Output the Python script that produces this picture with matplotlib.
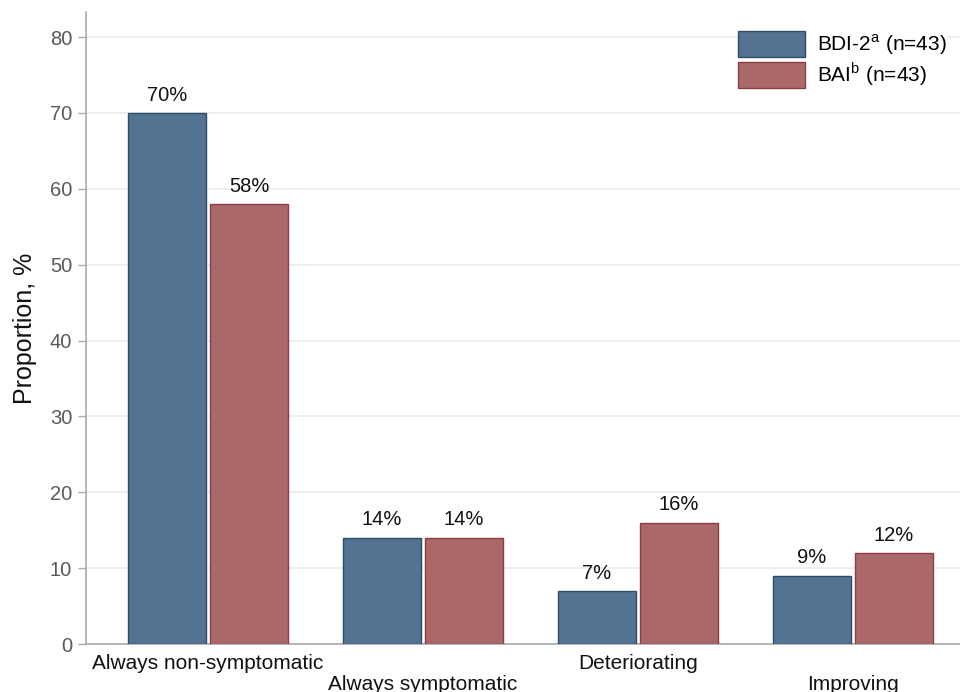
import matplotlib
matplotlib.use("Agg")
import matplotlib.pyplot as plt
import numpy as np

categories = ["Always non-symptomatic", "Always symptomatic", "Deteriorating", "Improving"]
bdi = [70, 14, 7, 9]
bai = [58, 14, 16, 12]
bdi_labels = ["70%", "14%", "7%", "9%"]
bai_labels = ["58%", "14%", "16%", "12%"]
series_names = ["BDI-2$^{\\mathrm{a}}$ (n=43)", "BAI$^{\\mathrm{b}}$ (n=43)"]
yticks = [0, 10, 20, 30, 40, 50, 60, 70, 80]

plt.rcParams['font.family'] = ['Liberation Sans', 'DejaVu Sans']
plt.rcParams['mathtext.fontset'] = 'custom'
plt.rcParams['mathtext.rm'] = 'Liberation Sans'

fig = plt.figure(figsize=(9.6, 6.92), dpi=100)
ax = fig.add_axes([86/960, 1-644/692, 1-86/960, (644-12)/692])

x = np.arange(len(categories))
w = 0.363
off = 0.191
blue = "#527391"
red = "#aa6868"
b1 = ax.bar(x - off, bdi, w, color=blue, edgecolor="#2e4c6b", linewidth=1.0, label=series_names[0], zorder=3)
b2 = ax.bar(x + off, bai, w, color=red, edgecolor="#8e3c46", linewidth=1.0, label=series_names[1], zorder=3)

for rects, labs in ((b1, bdi_labels), (b2, bai_labels)):
    for r, lab in zip(rects, labs):
        ax.annotate(lab, (r.get_x() + r.get_width()/2, r.get_height()),
                    xytext=(0, 6), textcoords="offset points", ha="center", va="bottom",
                    fontsize=14.5, color="#111111")

ax.set_xlim(-0.568, 3.5)
ax.set_ylim(0, 83.3)
ax.set_yticks(yticks)
ax.tick_params(axis='y', labelsize=14.5, labelcolor="#5a5a5a", color="#aaaaaa", length=6, width=1, pad=4)
ax.set_xticks(x)
ax.set_xticklabels(categories, fontsize=15, color="#111111")
ax.tick_params(axis='x', length=0)
for i, t in enumerate(ax.xaxis.get_major_ticks()):
    t.set_pad(7 if i % 2 == 0 else 22)

ax.grid(axis='y', color="#ebebeb", linewidth=1.2, zorder=0)
ax.set_axisbelow(True)
for s in ["top", "right"]:
    ax.spines[s].set_visible(False)
ax.spines["left"].set_color("#aaaaaa")
ax.spines["bottom"].set_color("#aaaaaa")
ax.spines["left"].set_linewidth(1.2)
ax.spines["bottom"].set_linewidth(1.2)

ax.set_ylabel("Proportion, %", fontsize=18, color="#111111", labelpad=9)

leg = ax.legend(loc="upper right", bbox_to_anchor=(0.986, 0.972), frameon=True, fontsize=15,
                handlelength=3.2, handleheight=1.55, labelspacing=0.15, handletextpad=0.6,
                borderaxespad=0, borderpad=0.05, fancybox=False)
leg.get_frame().set_facecolor("white")
leg.get_frame().set_edgecolor("none")
leg.get_frame().set_alpha(1)

fig.savefig("out.png", dpi=100)
